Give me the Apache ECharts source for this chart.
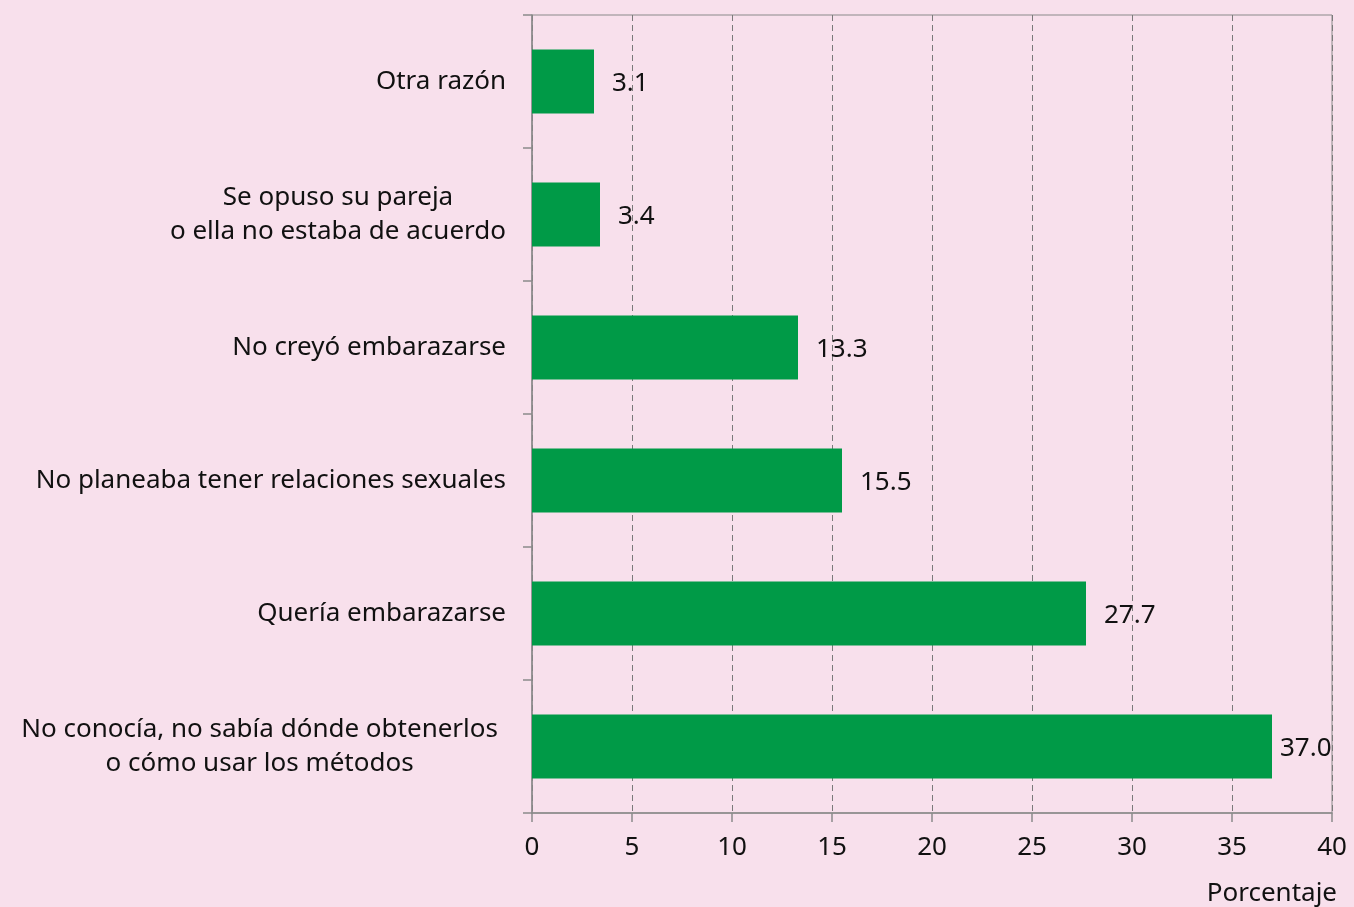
<!DOCTYPE html>
<html>
<head>
<meta charset="utf-8">
<script src="https://cdn.jsdelivr.net/npm/echarts@6/dist/echarts.min.js"></script>
<style>
  html, body { margin: 0; padding: 0; background: #f8e0ec; }
  #main { width: 1354px; height: 907px; }
</style>
</head>
<body>
<div id="main"></div>
<script>
// categories, top to bottom
var categories = [
    'Otra razón',
    'Se opuso su pareja\no ella no estaba de acuerdo',
    'No creyó embarazarse',
    'No planeaba tener relaciones sexuales',
    'Quería embarazarse',
    'No conocía, no sabía dónde obtenerlos\no cómo usar los métodos'
];
var values = [3.1, 3.4, 13.3, 15.5, 27.7, 37.0];
var xTicks = [0, 5, 10, 15, 20, 25, 30, 35, 40];

var FONT = 'Noto Sans';
var SIZE = 26;
var last = categories.length - 1;

// last label sits a bit further from the axis in the original
var yData = categories.map(function (c, i) {
    return i === last ? { value: c, textStyle: { padding: [0, 8, 0, 0] } } : c;
});
// the longest bar's label is pulled in closer so it fits in the frame
var barData = values.map(function (v, i) {
    return i === last ? { value: v, label: { distance: 8 } } : v;
});

var chart = echarts.init(document.getElementById('main'));
chart.setOption({
    backgroundColor: '#f8e0ec',
    textStyle: { fontFamily: FONT },
    title: {
        text: 'Porcentaje',
        right: 12,
        top: 876,
        textStyle: { fontFamily: FONT, fontSize: SIZE, fontWeight: 'normal', color: '#111' }
    },
    grid: {
        left: 532, right: 22, top: 15, bottom: 94,
        show: true, borderColor: '#8a8a8a', borderWidth: 1,
        backgroundColor: 'transparent'
    },
    xAxis: {
        type: 'value',
        min: xTicks[0],
        max: xTicks[xTicks.length - 1],
        interval: 5,
        axisLine: { show: true, lineStyle: { color: '#8a8a8a', width: 1.5 } },
        axisTick: { show: true, length: 9, lineStyle: { color: '#8a8a8a', width: 1.5 } },
        axisLabel: { fontSize: SIZE, color: '#111', margin: 22, fontFamily: FONT },
        splitLine: { show: true, lineStyle: { color: '#7a7a7a', type: [6, 4], width: 1 } }
    },
    yAxis: {
        type: 'category',
        inverse: true,
        data: yData,
        axisLine: { show: true, lineStyle: { color: '#8a8a8a', width: 1.5 } },
        axisTick: { show: true, length: 9, lineStyle: { color: '#8a8a8a', width: 1.5 } },
        axisLabel: {
            margin: 26,
            formatter: function (val) {
                return val.split('\n').map(function (s) { return '{c|' + s + '}'; }).join('\n');
            },
            rich: {
                c: { fontSize: SIZE, color: '#111', align: 'center', lineHeight: 34, fontFamily: FONT }
            }
        }
    },
    series: [{
        type: 'bar',
        data: barData,
        barWidth: 64,
        itemStyle: { color: '#009a47' },
        label: {
            show: true,
            position: 'right',
            distance: 18,
            fontSize: SIZE,
            color: '#111',
            fontFamily: FONT,
            offset: [0, 2],
            formatter: function (p) { return p.value.toFixed(1); }
        }
    }]
});
</script>
</body>
</html>
